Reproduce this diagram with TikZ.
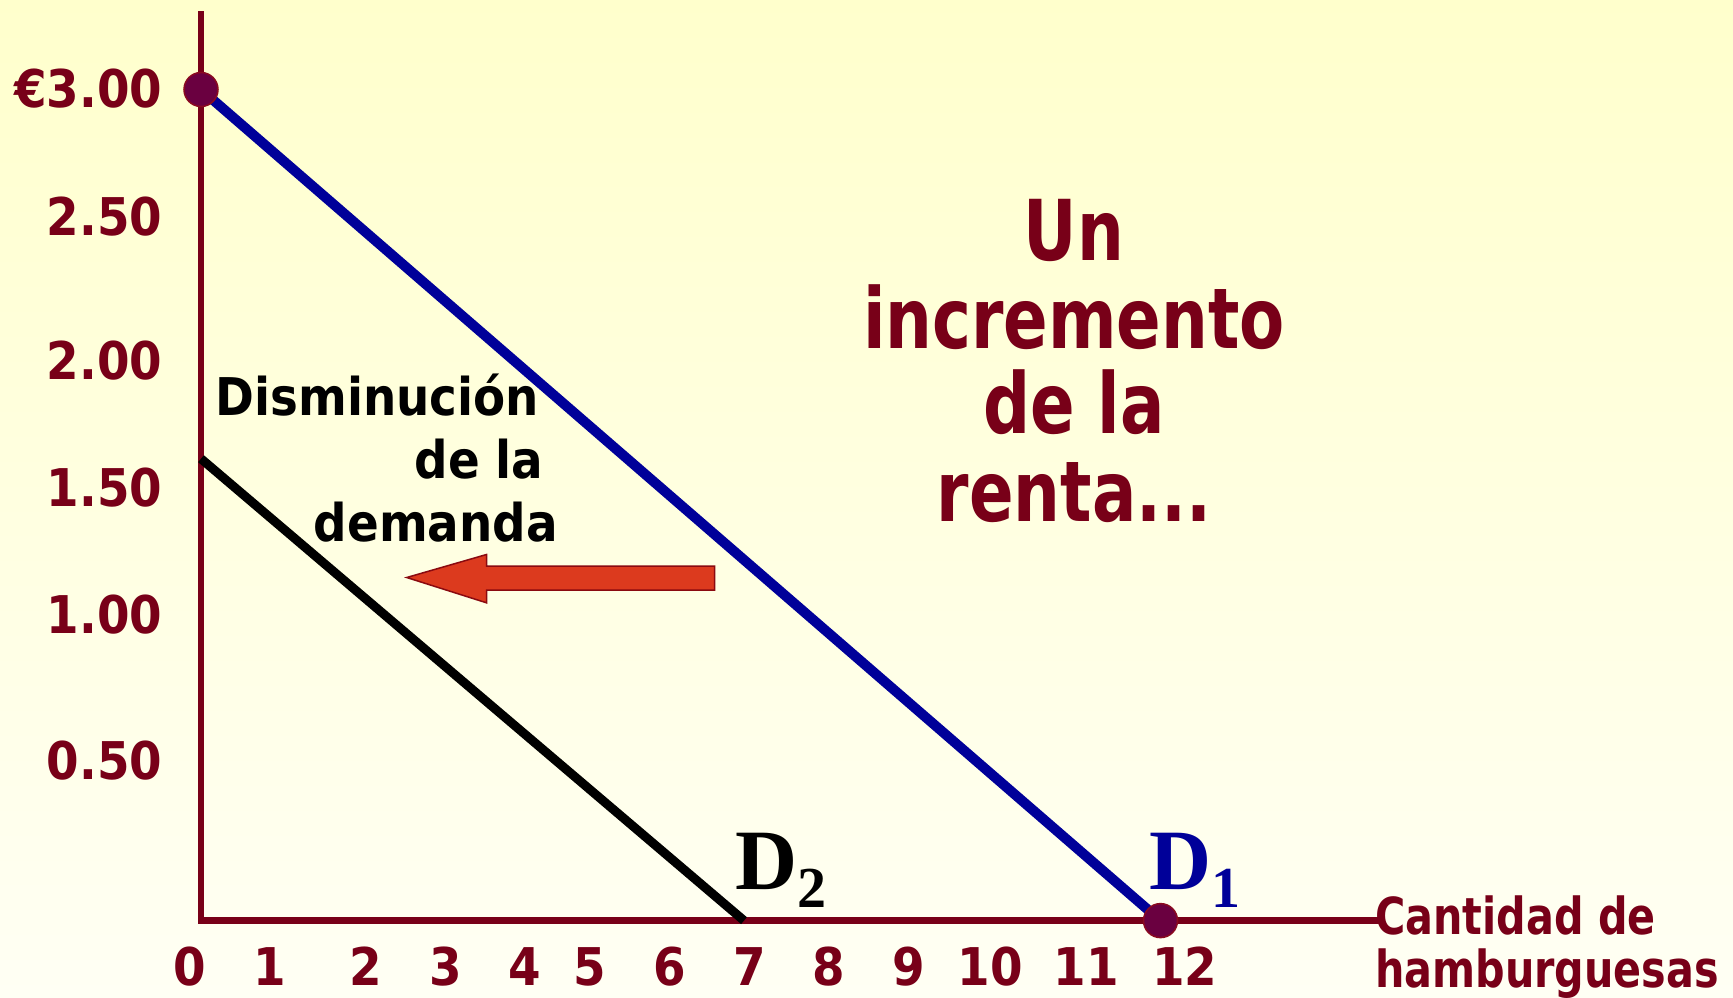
\documentclass[tikz,border=0pt]{standalone}
\usepackage{fontspec}
\setmainfont{DejaVu Sans Condensed}[BoldFont={DejaVu Sans Condensed Bold}]
\newfontfamily\narrowfont{DejaVu Sans Condensed Bold}[FakeStretch=0.87]
\newfontfamily\midfont{DejaVu Sans Condensed Bold}[FakeStretch=0.9]
\newfontfamily\serifD{Liberation Serif}
\definecolor{maroon}{HTML}{780018}
\definecolor{dotfill}{HTML}{6A0040}
\definecolor{dotedge}{HTML}{8A0A20}
\definecolor{dblue}{HTML}{000099}
\definecolor{arrowred}{HTML}{DC3A1E}
\definecolor{arrowedge}{HTML}{8A0A10}
\definecolor{bgtop}{HTML}{FFFFCC}
\definecolor{bgbot}{HTML}{FFFFF4}
\tikzset{
  axisline/.style={draw=maroon, line width=6.5pt},
  dline/.style={line width=10pt},
  pdot/.style={circle, fill=dotfill, draw=dotedge, line width=1.5pt, minimum size=34pt, inner sep=0pt},
  ylab/.style={anchor=base east, inner sep=0pt, text=maroon, font=\bfseries\fontsize{52}{60}\selectfont},
  xlab/.style={anchor=base, inner sep=0pt, text=maroon, font=\bfseries\fontsize{52}{60}\selectfont},
  blk/.style={inner sep=0pt, text=black, font=\bfseries\fontsize{52}{60}\selectfont},
  qlab/.style={anchor=base west, inner sep=0pt, text=maroon, font=\midfont\fontsize{51}{60}\selectfont},
  big/.style={anchor=base, inner sep=0pt, text=maroon, font=\narrowfont\fontsize{84}{90}\selectfont},
  dlab/.style={anchor=base west, inner sep=0pt, font=\serifD\fontsize{86}{90}\selectfont},
}
\begin{document}
\begin{tikzpicture}[x=1pt,y=-1pt]
\useasboundingbox (0,0) rectangle (1733,997);
\shade[top color=bgtop, bottom color=bgbot] (0,0) rectangle (1733,997);

% axes
\coordinate (ytop) at (201,11);
\coordinate (O) at (201,920.6);
\coordinate (xend) at (1381,920.6);
\draw[axisline] (ytop) -- (O) -- (xend);

% curves
\coordinate (d1a) at (201,89.5);
\coordinate (d1b) at (1160.5,920.6);
\coordinate (d2a) at (201,458.7);
\coordinate (d2b) at (744,920.6);
\draw[dline, draw=dblue] (d1a) -- (d1b);
\draw[line width=9pt, draw=black] (d2a) -- (d2b);
\node[pdot] (p3) at (d1a) {};
\node[pdot] (q12) at (d1b) {};

% y labels
\node[ylab] (y300) at (162.5,107) {€3.00};
\node[ylab] (y250) at (162.5,235.4) {2.50};
\node[ylab] (y200) at (162.5,379) {2.00};
\node[ylab] (y150) at (162.5,506) {1.50};
\node[ylab] (y100) at (162.5,633) {1.00};
\node[ylab] (y050) at (162.5,779) {0.50};

% x labels
\node[xlab] (x0) at (190,985.8) {0};
\node[xlab] (x1) at (269.7,985.8) {1};
\node[xlab] (x2) at (365.8,985.8) {2};
\node[xlab] (x3) at (445.4,985.8) {3};
\node[xlab] (x4) at (525,985.8) {4};
\node[xlab] (x5) at (590,985.8) {5};
\node[xlab] (x6) at (669.7,985.8) {6};
\node[xlab] (x7) at (749.3,985.8) {7};
\node[xlab] (x8) at (829,985.8) {8};
\node[xlab] (x9) at (908.5,985.8) {9};
\node[xlab] (x10) at (990.2,985.8) {10};
\node[xlab] (x11) at (1086.4,985.8) {11};
\node[xlab] (x12) at (1184.8,985.8) {12};

\node[qlab] (q1) at (1375,934) {Cantidad de};
\node[qlab] (q2) at (1375,987) {hamburguesas};

% decrease text
\node[blk, anchor=base west] (t1) at (215.5,415.6) {Disminución};
\node[blk, anchor=base east] (t2) at (543.8,478.5) {de la};
\node[blk, anchor=base east] (t3) at (558,541.6) {demanda};

% arrow
\filldraw[fill=arrowred, draw=arrowedge, line width=1.5pt]
  (406.7,577.5) -- (486.5,554.5) -- (486.5,566) -- (714.5,566) -- (714.5,590)
  -- (486.5,590) -- (486.5,602.8) -- cycle;

% big text
\node[big] (b1) at (1074,260) {Un};
\node[big] (b2) at (1074,348) {incremento};
\node[big] (b3) at (1074,433) {de la};
\node[big] (b4) at (1074,521.6) {renta...};

% D labels
\node[dlab, text=black] (D2) at (735,889.7) {\bfseries D\raisebox{-18pt}{\fontsize{58}{60}\selectfont 2}};
\node[dlab, text=dblue] (D1) at (1149.4,889.7) {\bfseries D\raisebox{-18pt}{\fontsize{58}{60}\selectfont 1}};
\end{tikzpicture}
\end{document}
